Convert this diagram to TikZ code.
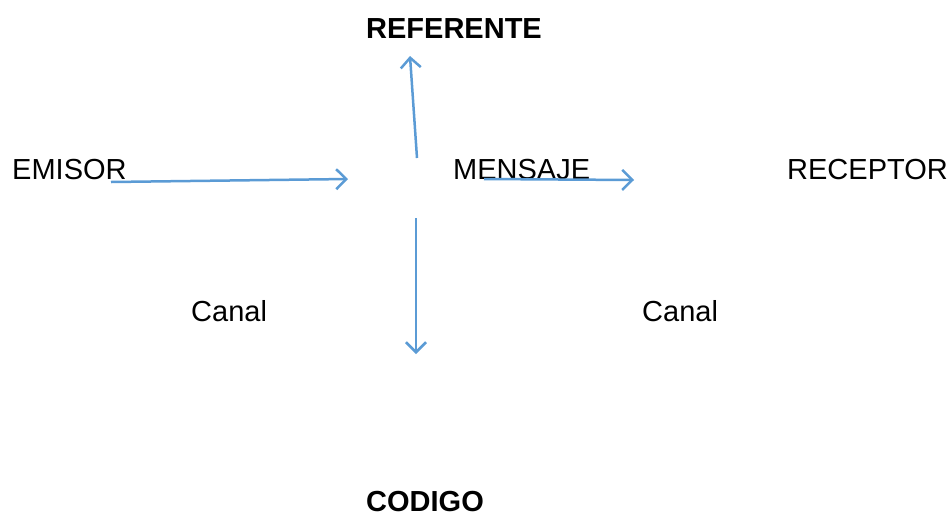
\documentclass[tikz,border=0pt]{standalone}
\usepackage{fontspec}
\setmainfont{Liberation Sans}
\usetikzlibrary{arrows.meta}
\definecolor{arrowblue}{HTML}{5B9BD5}
\begin{document}
\begin{tikzpicture}[x=1pt,y=-1pt,
  lbl/.style={anchor=base west,inner sep=0pt,font=\fontsize{29}{34}\selectfont},
  blbl/.style={lbl,font=\fontsize{29}{34}\selectfont\bfseries},
  conn/.style={draw=arrowblue,line width=2.5pt,-{Straight Barb[length=10pt,width=20pt]}}]
\useasboundingbox (0,0) rectangle (951,515);
\node[blbl] (ref) at (366,38) {REFERENTE};
\node[lbl] (emi) at (12,179) {EMISOR};
\node[lbl] (men) at (453,179) {MENSAJE};
\node[lbl] (rec) at (787,179) {RECEPTOR};
\node[lbl] (can1) at (191,321) {Canal};
\node[lbl] (can2) at (642,321) {Canal};
\node[blbl] (cod) at (366,511) {CODIGO};
\coordinate (e0) at (111,182);
\coordinate (e1) at (348,179);
\coordinate (u0) at (417,158);
\coordinate (u1) at (410,56);
\coordinate (m0) at (484,179);
\coordinate (m1) at (634,180);
\coordinate (d0) at (416,218);
\coordinate (d1) at (416,354);
\draw[conn] (e0) -- (e1);
\draw[conn] (u0) -- (u1);
\draw[conn] (m0) -- (m1);
\draw[conn] (d0) -- (d1);
\end{tikzpicture}
\end{document}
